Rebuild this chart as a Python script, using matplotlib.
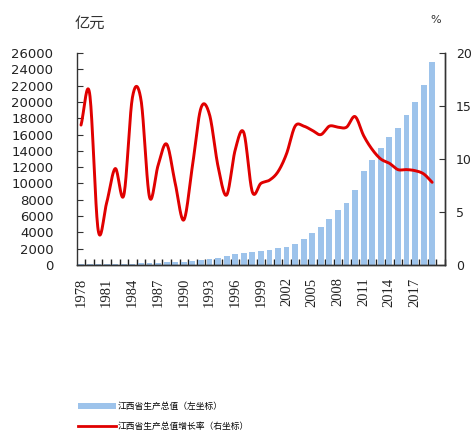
import numpy as np
import matplotlib
matplotlib.use("Agg")
import matplotlib.pyplot as plt
from matplotlib.patches import Patch
from matplotlib.lines import Line2D

plt.rcParams['font.family'] = ['DejaVu Sans', 'Noto Sans CJK SC']

years = list(range(1978, 2020))
gdp = [87, 104, 111, 121, 133, 145, 170, 208, 231, 262, 326, 376, 429, 479,
       572, 723, 900, 1100, 1300, 1450, 1560, 1720, 1880, 2050, 2250, 2580,
       3190, 3890, 4704, 5603, 6749, 7567, 9203, 11534, 12884, 14397, 15747,
       16769, 18405, 19959, 22086, 24949]
growth = [13.2, 16.2, 3.3, 5.9, 9.1, 6.6, 15.8, 15.6, 6.4, 9.4, 11.4, 7.7,
          4.25, 9.3, 14.8, 14.2, 9.3, 6.6, 10.85, 12.5, 6.9, 7.7, 8.0, 8.8,
          10.5, 13.1, 13.1, 12.7, 12.3, 13.1, 13.0, 13.0, 14.0, 12.2, 10.9,
          10.0, 9.6, 9.0, 9.0, 8.9, 8.6, 7.8]

label_years = list(range(1978, 2018, 3))
gdp_label = '江西省生产总值（左坐标）'
growth_label = '江西省生产总值增长率（右坐标）'

bar_color = '#9DC3EB'
line_color = '#E00000'
axis_color = '#333333'


def catmull_rom(x, y, n=20):
    # smooth line through the points, like the spreadsheet's smoothed line
    x = np.asarray(x, float)
    y = np.asarray(y, float)
    px = np.concatenate([[2 * x[0] - x[1]], x, [2 * x[-1] - x[-2]]])
    py = np.concatenate([[2 * y[0] - y[1]], y, [2 * y[-1] - y[-2]]])
    xs, ys = [], []
    t = np.linspace(0, 1, n, endpoint=False)
    for i in range(1, len(px) - 2):
        for p, out in ((px, xs), (py, ys)):
            p0, p1, p2, p3 = p[i - 1], p[i], p[i + 1], p[i + 2]
            out.extend(0.5 * (2 * p1 + (-p0 + p2) * t
                              + (2 * p0 - 5 * p1 + 4 * p2 - p3) * t ** 2
                              + (-p0 + 3 * p1 - 3 * p2 + p3) * t ** 3))
    xs.append(x[-1])
    ys.append(y[-1])
    return np.array(xs), np.array(ys)


fig = plt.figure(figsize=(4.74, 4.32), dpi=100)
ax = fig.add_axes([77 / 474, 1 - 265 / 432, 368 / 474, 212 / 432])
ax2 = ax.twinx()

idx = np.arange(len(years))
ax.bar(idx, gdp, width=0.68, color=bar_color, zorder=2)
sx, sy = catmull_rom(idx, growth)
ax2.plot(sx, sy, color=line_color, lw=2.1, solid_capstyle='round', zorder=3)

ax.set_xlim(-0.47, 42.5)
ax.set_ylim(0, 26000)
ax2.set_ylim(0, 20)

ax.set_yticks(range(0, 26001, 2000))
ax2.set_yticks([0, 5, 10, 15, 20])
ax.set_xticks([y - 1978 for y in label_years])
ax.set_xticklabels([str(y) for y in label_years], rotation=90,
                   family='Liberation Serif', fontsize=10.5)
ax.set_xticks(np.arange(0.5, 42.6, 1), minor=True)

for a in (ax, ax2):
    for s in a.spines.values():
        s.set_color(axis_color)
        s.set_linewidth(1.0)
    a.spines['top'].set_visible(False)

ax.tick_params(axis='x', which='major', length=0, pad=9, colors='#222222')
ax.tick_params(axis='x', which='minor', direction='in', length=4,
               width=1.0, color='#222222')
ax.tick_params(axis='y', direction='in', length=4, pad=17,
               labelsize=9.5, colors='#222222', color=axis_color)
ax2.tick_params(axis='y', direction='in', length=4, pad=8,
                labelsize=9, colors='#222222', color=axis_color)
ax2.spines['left'].set_visible(False)

fig.text(75 / 474, 1 - 23 / 432, '亿元', family='Noto Sans CJK SC',
         fontsize=11, color='#333333', va='center', ha='left')
fig.text(430 / 474, 1 - 20 / 432, '%', fontsize=8, color='#333333',
         va='center', ha='left')

handles = [Patch(facecolor=bar_color, edgecolor='none'),
           Line2D([0], [0], color=line_color, lw=2.0)]
fig.legend(handles, [gdp_label, growth_label], loc='upper left',
           bbox_to_anchor=(78 / 474, 1 - 402 / 432), frameon=False,
           prop={'family': 'Noto Sans CJK SC', 'size': 6.3},
           handlelength=4.3, handleheight=0.6, handletextpad=0.2,
           labelspacing=1.25, borderpad=0, borderaxespad=0)

fig.savefig('out.png', dpi=100)
